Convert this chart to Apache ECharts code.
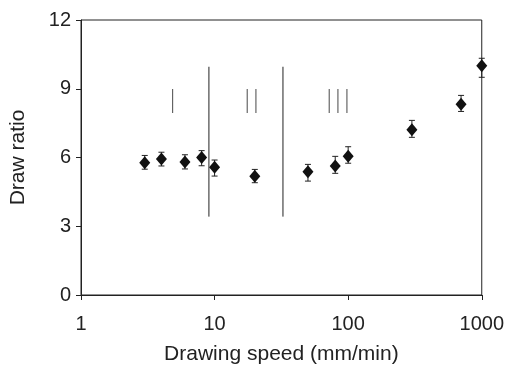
<!DOCTYPE html>
<html>
<head>
<meta charset="utf-8">
<script src="https://cdn.jsdelivr.net/npm/echarts@6/dist/echarts.min.js"></script>
<style>
  html, body { margin: 0; padding: 0; background: #fff; }
  #container1 { width: 507px; height: 372px; }
</style>
</head>
<body>
<div id="container1"></div>
<script>
// drawing speed (mm/min) and draw ratio
var speed = [3, 4, 6, 8, 10, 20, 50, 80, 100, 300, 700, 1000];
var ratio = [5.77, 5.93, 5.8, 6.0, 5.58, 5.18, 5.38, 5.63, 6.06, 7.21, 8.32, 10.0];
var errLow = [5.49, 5.63, 5.50, 5.64, 5.19, 4.90, 4.97, 5.31, 5.75, 6.88, 8.01, 9.50];
var errHigh = [6.09, 6.23, 6.12, 6.30, 5.89, 5.48, 5.70, 6.05, 6.47, 7.62, 8.71, 10.33];

// region boundaries and region labels
var boundaryX = [9.07, 32.5];
var boundaryY = [3.42, 9.96];
var regionNames = ['I', 'II', 'III'];
var regionX = [4.85, 18.9, 84];
var regionY = 8.33;

var yTicks = [0, 3, 6, 9, 12];

var ink = '#222';

var dom = document.getElementById("container1");
var myChart = echarts.init(dom);

var points = speed.map(function (s, i) { return [s, ratio[i]]; });
var bars = speed.map(function (s, i) { return [s, errLow[i], errHigh[i]]; });
var bounds = boundaryX.map(function (x) { return [x, boundaryY[0], boundaryY[1]]; });
var regions = regionNames.map(function (n, i) { return [regionX[i], regionY, n]; });

var option = {
  animation: false,
  grid: {
    left: 79, right: 24, top: 20, bottom: 77,
    show: true, borderColor: ink, borderWidth: 1
  },
  xAxis: {
    type: 'log',
    logBase: 10,
    min: 1,
    max: 1000,
    name: 'Drawing speed (mm/min)',
    nameLocation: 'middle',
    nameGap: 49,
    nameTextStyle: { color: ink, fontSize: 21, fontFamily: 'Liberation Sans' },
    axisLine: { show: true, lineStyle: { color: ink, width: 1 } },
    axisTick: { show: true, length: 5, lineStyle: { color: ink } },
    axisLabel: {
      color: ink, fontSize: 20, fontFamily: 'Liberation Sans', margin: 19,
      formatter: function (v) { return String(Math.round(v)); }
    },
    splitLine: { show: false },
    minorTick: { show: false }
  },
  yAxis: {
    type: 'value',
    min: yTicks[0],
    max: yTicks[yTicks.length - 1],
    interval: 3,
    name: 'Draw ratio',
    nameLocation: 'middle',
    nameGap: 52,
    nameTextStyle: { color: ink, fontSize: 21, fontFamily: 'Liberation Sans' },
    axisLine: { show: true, lineStyle: { color: ink, width: 1 } },
    axisTick: { show: true, length: 5, lineStyle: { color: ink } },
    axisLabel: { color: ink, fontSize: 20, fontFamily: 'Liberation Sans', margin: 10 },
    splitLine: { show: false }
  },
  series: [
    {
      // error bars
      type: 'custom',
      data: bars,
      clip: false,
      silent: true,
      renderItem: function (params, api) {
        var top = api.coord([api.value(0), api.value(2)]);
        var bot = api.coord([api.value(0), api.value(1)]);
        var w = 3;
        var st = { stroke: ink, lineWidth: 1 };
        return {
          type: 'group',
          children: [
            { type: 'line', shape: { x1: top[0], y1: top[1], x2: bot[0], y2: bot[1] }, style: st },
            { type: 'line', shape: { x1: top[0] - w, y1: top[1], x2: top[0] + w, y2: top[1] }, style: st },
            { type: 'line', shape: { x1: bot[0] - w, y1: bot[1], x2: bot[0] + w, y2: bot[1] }, style: st }
          ]
        };
      }
    },
    {
      type: 'scatter',
      data: points,
      symbol: 'diamond',
      symbolSize: [11, 13],
      itemStyle: { color: '#111', opacity: 1 },
      silent: true
    },
    {
      // region boundaries
      type: 'custom',
      data: bounds,
      clip: false,
      silent: true,
      renderItem: function (params, api) {
        var a = api.coord([api.value(0), api.value(1)]);
        var b = api.coord([api.value(0), api.value(2)]);
        return {
          type: 'line',
          shape: { x1: a[0], y1: a[1], x2: b[0], y2: b[1] },
          style: { stroke: ink, lineWidth: 1 }
        };
      }
    },
    {
      // region labels I, II, III
      type: 'custom',
      data: regions,
      clip: false,
      silent: true,
      renderItem: function (params, api) {
        var p = api.coord([api.value(0), api.value(1)]);
        return {
          type: 'text',
          x: p[0],
          y: p[1],
          style: {
            text: regions[params.dataIndex][2],
            fontFamily: 'Roboto',
            fontWeight: 100,
            fontSize: 34,
            fill: '#333',
            align: 'center',
            verticalAlign: 'middle'
          }
        };
      }
    }
  ]
};

myChart.setOption(option);
</script>
</body>
</html>
